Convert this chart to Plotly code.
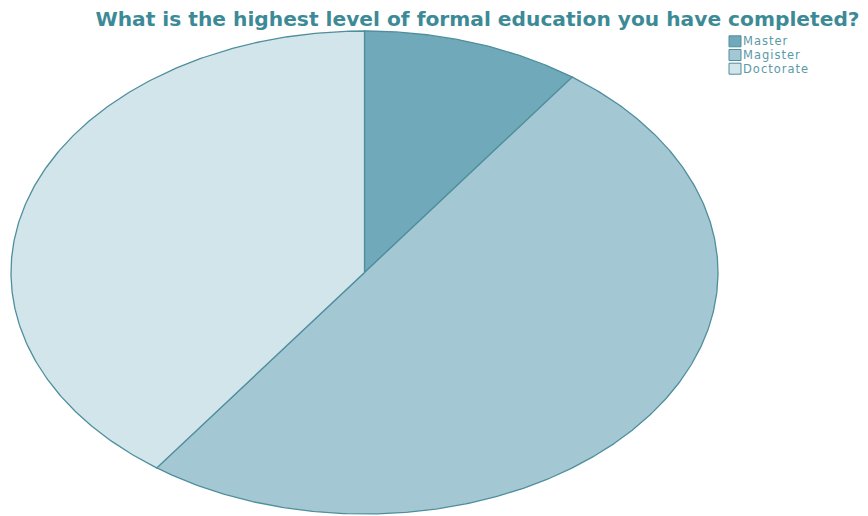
import numpy as np
import plotly.graph_objects as go

# Survey answers (percent of respondents)
categories = ["Master", "Magister", "Doctorate"]
shares = [10, 50, 40]

fill_colors = ["#6fa9ba", "#a3c8d3", "#d1e5eb"]
edge_color = "#4f8e9c"
text_color = "#3d8a97"
legend_text_color = "#5a9aa8"

# Pixel geometry of the ellipse inside the 868x516 canvas
W, H = 868, 516
cx, cy = 364.5, 272.5      # centre (pixels from left / top)
rx, ry = 353.5, 241.5      # horizontal / vertical radius in pixels

fig = go.Figure()

total = float(sum(shares))
start = 0.0
for name, val, col in zip(categories, shares, fill_colors):
    sweep = 360.0 * val / total
    theta = np.radians(np.linspace(start, start + sweep, max(int(sweep * 2), 8)))
    # unit-circle wedge, clockwise from 12 o'clock; axes stretch it to an ellipse
    xs = np.concatenate([[0.0], np.sin(theta), [0.0]])
    ys = np.concatenate([[0.0], np.cos(theta), [0.0]])
    fig.add_trace(go.Scatter(
        x=xs, y=ys, mode="lines", fill="toself", fillcolor=col,
        line=dict(color=edge_color, width=1.3), name=name,
        showlegend=False, hoverinfo="text",
        text=f"{name}: {val}%",
    ))
    start += sweep

# Compact legend: square swatches with labels, top right
leg_x0, leg_y0 = 729, 41.3      # swatch left edge / first row centre (px)
row_step, sw, sh = 13.7, 12, 11
shapes, annotations = [], []
for i, (name, col) in enumerate(zip(categories, fill_colors)):
    yc = leg_y0 + i * row_step
    shapes.append(dict(
        type="rect", xref="paper", yref="paper",
        x0=leg_x0 / W, x1=(leg_x0 + sw) / W,
        y0=1 - (yc + sh / 2) / H, y1=1 - (yc - sh / 2) / H,
        fillcolor=col, line=dict(color=edge_color, width=1),
    ))
    annotations.append(dict(
        text=f'<span style="letter-spacing:1px">{name}</span>',
        xref="paper", yref="paper",
        x=(leg_x0 + sw + 1) / W, y=1 - yc / H,
        xanchor="left", yanchor="middle", showarrow=False,
        borderpad=0,
        font=dict(family="DejaVu Sans, Verdana, sans-serif", size=11.5,
                  color=legend_text_color),
    ))

fig.update_layout(
    width=W, height=H,
    margin=dict(l=0, r=0, t=0, b=0),
    paper_bgcolor="white", plot_bgcolor="white",
    title=dict(
        text="What is the highest level of formal education you have completed?",
        x=477.5 / W, xanchor="center", y=1 - 19 / H, yanchor="middle",
        font=dict(family="DejaVu Sans, Verdana, sans-serif", size=20.2,
                  color=text_color, weight="bold"),
    ),
    xaxis=dict(range=[-cx / rx, (W - cx) / rx], visible=False, fixedrange=True),
    yaxis=dict(range=[-(H - cy) / ry, cy / ry], visible=False, fixedrange=True),
    shapes=shapes,
    annotations=annotations,
    showlegend=False,
)

fig.write_html("out.html")
